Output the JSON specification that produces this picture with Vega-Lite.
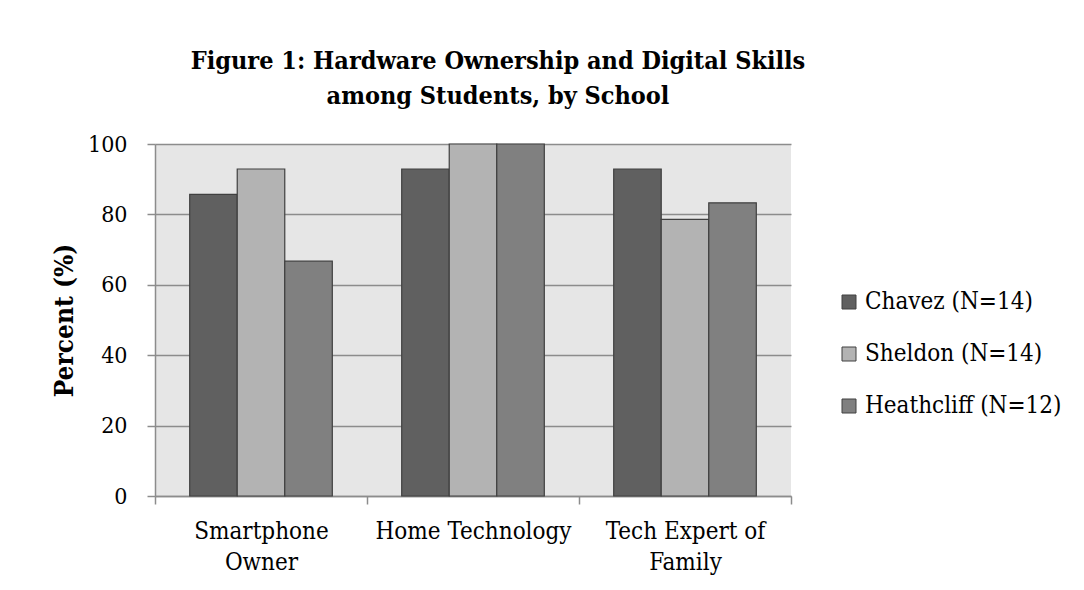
{
  "$schema": "https://vega.github.io/schema/vega-lite/v6.json",
  "autosize": "none",
  "width": 636,
  "height": 352,
  "padding": {"left": 155, "top": 144, "right": 293, "bottom": 94},
  "background": "white",
  "title": {
    "text": ["Figure 1: Hardware Ownership and Digital Skills", "among Students, by School"],
    "font": "DejaVu Serif Condensed, Liberation Serif, serif",
    "fontSize": 25,
    "fontWeight": "bold",
    "color": "black",
    "lineHeight": 35,
    "anchor": "middle",
    "frame": "group",
    "dx": 25,
    "offset": 24
  },
  "data": {
    "values": [
      {"category": "Smartphone Owner", "school": "Chavez (N=14)", "percent": 85.7},
      {"category": "Smartphone Owner", "school": "Sheldon (N=14)", "percent": 92.9},
      {"category": "Smartphone Owner", "school": "Heathcliff (N=12)", "percent": 66.7},
      {"category": "Home Technology", "school": "Chavez (N=14)", "percent": 92.9},
      {"category": "Home Technology", "school": "Sheldon (N=14)", "percent": 100},
      {"category": "Home Technology", "school": "Heathcliff (N=12)", "percent": 100},
      {"category": "Tech Expert of Family", "school": "Chavez (N=14)", "percent": 92.9},
      {"category": "Tech Expert of Family", "school": "Sheldon (N=14)", "percent": 78.6},
      {"category": "Tech Expert of Family", "school": "Heathcliff (N=12)", "percent": 83.3}
    ]
  },
  "mark": {"type": "bar", "stroke": "#404040", "strokeWidth": 1.2},
  "encoding": {
    "x": {
      "field": "category",
      "type": "nominal",
      "sort": ["Smartphone Owner", "Home Technology", "Tech Expert of Family"],
      "scale": {"paddingInner": 0, "paddingOuter": 0},
      "axis": {
        "title": null,
        "labelAngle": 0,
        "labelFont": "DejaVu Serif Condensed, Liberation Serif, serif",
        "labelFontSize": 24,
        "labelColor": "black",
        "labelLineHeight": 31,
        "labelPadding": 15,
        "labelLimit": 400,
        "labelExpr": "datum.label == 'Smartphone Owner' ? ['Smartphone', 'Owner'] : datum.label == 'Tech Expert of Family' ? ['Tech Expert of', 'Family'] : datum.label",
        "tickBand": "extent",
        "tickSize": 8,
        "tickColor": "#8c8c8c",
        "domainColor": "#8c8c8c",
        "domainWidth": 1.5,
        "tickWidth": 1.5
      }
    },
    "xOffset": {
      "field": "school",
      "type": "nominal",
      "sort": ["Chavez (N=14)", "Sheldon (N=14)", "Heathcliff (N=12)"],
      "scale": {"paddingInner": 0, "paddingOuter": 0.73}
    },
    "y": {
      "field": "percent",
      "type": "quantitative",
      "scale": {"domain": [0, 100], "nice": false},
      "axis": {
        "values": [0, 20, 40, 60, 80, 100],
        "title": "Percent (%)",
        "titleFont": "DejaVu Serif Condensed, Liberation Serif, serif",
        "titleFontSize": 26,
        "titleFontWeight": "bold",
        "titleColor": "black",
        "titleX": -78,
        "titleY": 176,
        "titleAlign": "center",
        "titleBaseline": "bottom",
        "titleAngle": -90,
        "labelFont": "DejaVu Serif Condensed, Liberation Serif, serif",
        "labelFontSize": 23,
        "labelColor": "black",
        "labelPadding": 20,
        "tickSize": 8,
        "tickColor": "#8c8c8c",
        "tickWidth": 1.5,
        "domainColor": "#8c8c8c",
        "domainWidth": 1.5,
        "grid": true,
        "gridColor": "#8c8c8c",
        "gridWidth": 1.5
      }
    },
    "color": {
      "field": "school",
      "type": "nominal",
      "sort": ["Chavez (N=14)", "Sheldon (N=14)", "Heathcliff (N=12)"],
      "scale": {"range": ["#606060", "#b3b3b3", "#808080"]},
      "legend": {
        "title": null,
        "orient": "none",
        "legendX": 682,
        "legendY": 146,
        "symbolType": "square",
        "symbolSize": 196,
        "symbolStrokeColor": "#404040",
        "symbolStrokeWidth": 1,
        "labelFont": "DejaVu Serif Condensed, Liberation Serif, serif",
        "labelFontSize": 24,
        "labelColor": "black",
        "labelOffset": 4,
        "rowPadding": 28,
        "labelLimit": 300
      }
    }
  },
  "config": {
    "view": {"fill": "#e6e6e6", "stroke": null}
  }
}
